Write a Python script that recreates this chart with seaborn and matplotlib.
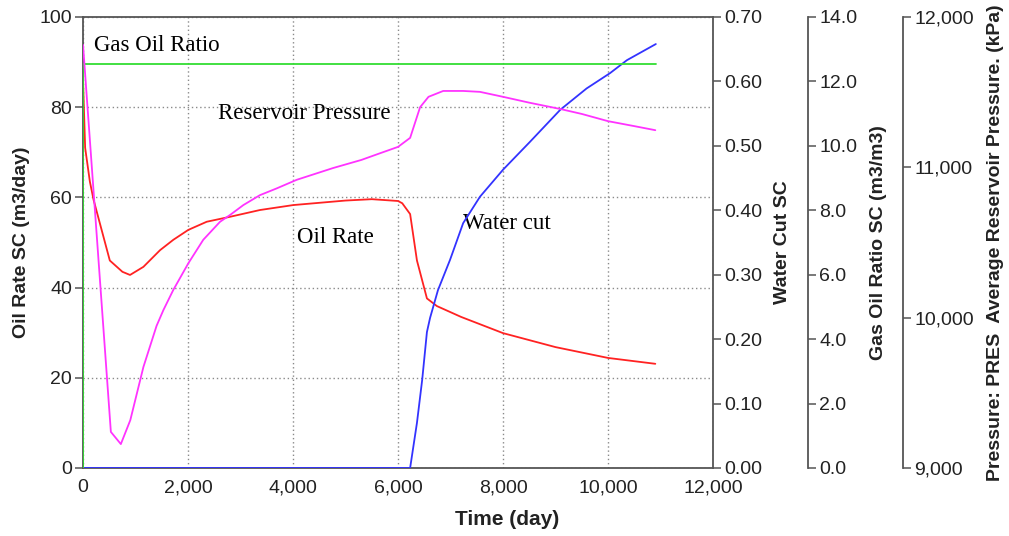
import numpy as np
import pandas as pd
import seaborn as sns
import matplotlib.pyplot as plt
from matplotlib.ticker import FuncFormatter, MultipleLocator

# ---- data ----
oil_time = [0, 40, 130, 200, 510, 750, 895, 1150, 1467, 1720, 2006, 2356, 2800, 3370,
            4006, 5000, 5500, 6000, 6080, 6230, 6360, 6550, 6740, 7200, 8000, 9000,
            10000, 10900]
oil_rate = [86, 71, 63.5, 59.5, 46, 43.5, 42.8, 44.6, 48.3, 50.6, 52.8, 54.6, 55.7, 57.2,
            58.3, 59.3, 59.6, 59.2, 58.7, 56.3, 46, 37.6, 35.9, 33.5, 29.9, 26.8,
            24.4, 23.1]

wc_time = [0, 6230, 6360, 6460, 6550, 6610, 6760, 6990, 7240, 7560, 8000, 8510,
           9090, 9590, 10040, 10360, 10910]
water_cut = [0, 0, 0.070, 0.137, 0.211, 0.233, 0.276, 0.323, 0.380, 0.421, 0.463, 0.506,
             0.556, 0.589, 0.613, 0.633, 0.658]

gor_time = [0, 0, 10910]
gor = [0, 12.53, 12.53]

pres_time = [0, 530, 720, 900, 1150, 1400, 1530, 1720, 2006, 2290, 2610, 2800, 3054,
             3370, 3690, 4070, 4760, 5300, 5660, 6000, 6230, 6420, 6580, 6860, 7240,
             7560, 8000, 8500, 9090, 9500, 10000, 10500, 10900]
pressure = [11814, 9240, 9159, 9318, 9672, 9945, 10050, 10185, 10362, 10518, 10638,
            10683, 10749, 10815, 10860, 10917, 10995, 11049, 11094, 11136, 11196,
            11400, 11469, 11508, 11508, 11502, 11469, 11430, 11388, 11355, 11307,
            11274, 11247]

# ---- style ----
sns.set_style("white")
plt.rcParams['font.family'] = ['Liberation Sans', 'DejaVu Sans']
axis_color = '#555555'
text_color = '#222222'
tick_size = 14
label_size = 14

fig = plt.figure(figsize=(10.09, 5.36), dpi=100)
ax = fig.add_axes([0.0823, 0.1269, 0.6244, 0.8414])
ax_wc = ax.twinx()
ax_gor = ax.twinx()
ax_p = ax.twinx()

ax_gor.spines['right'].set_position(('axes', 1.151))
ax_p.spines['right'].set_position(('axes', 1.3016))

# lines
sns.lineplot(x=oil_time, y=oil_rate, ax=ax, color='#ff2222', linewidth=1.3,
             estimator=None, sort=False)
sns.lineplot(x=wc_time, y=water_cut, ax=ax_wc, color='#3333ff', linewidth=1.3,
             estimator=None, sort=False)
sns.lineplot(x=gor_time, y=gor, ax=ax_gor, color='#33dd33', linewidth=1.3,
             estimator=None, sort=False)
sns.lineplot(x=pres_time, y=pressure, ax=ax_p, color='#ff33ff', linewidth=1.3,
             estimator=None, sort=False)

# limits & ticks
ax.set_xlim(0, 12000)
ax.set_ylim(0, 100)
ax.xaxis.set_major_locator(MultipleLocator(2000))
ax.yaxis.set_major_locator(MultipleLocator(20))
ax.xaxis.set_major_formatter(FuncFormatter(lambda v, _: f'{v:,.0f}'))

ax_wc.set_ylim(0, 0.7)
ax_wc.yaxis.set_major_locator(MultipleLocator(0.1))
ax_wc.yaxis.set_major_formatter(FuncFormatter(lambda v, _: f'{v:.2f}'))

ax_gor.set_ylim(0, 14)
ax_gor.yaxis.set_major_locator(MultipleLocator(2))
ax_gor.yaxis.set_major_formatter(FuncFormatter(lambda v, _: f'{v:.1f}'))

ax_p.set_ylim(9000, 12000)
ax_p.yaxis.set_major_locator(MultipleLocator(1000))
ax_p.yaxis.set_major_formatter(FuncFormatter(lambda v, _: f'{v:,.0f}'))

# grid on main axes
ax.grid(True, color='#8a8a8a', linestyle=(0, (1, 2)), linewidth=1.0)

# spines
for side in ['left', 'bottom', 'top', 'right']:
    ax.spines[side].set_color(axis_color)
    ax.spines[side].set_linewidth(1.3)
for a in [ax_wc, ax_gor, ax_p]:
    for side in ['left', 'bottom', 'top']:
        a.spines[side].set_visible(False)
    a.spines['right'].set_color(axis_color)
    a.spines['right'].set_linewidth(1.3)
ax_wc.spines['right'].set_visible(False)

for a in [ax, ax_wc, ax_gor, ax_p]:
    a.tick_params(direction='out', length=6, width=1.1, colors=axis_color,
                  labelcolor=text_color, labelsize=tick_size, pad=2)

# axis labels
ax.set_xlabel('Time (day)', fontsize=label_size + 1, fontweight='bold', color=text_color)
ax.xaxis.set_label_coords(0.673, -0.115)
ax.xaxis.label.set_va('center')

ax.set_ylabel('Oil Rate SC (m3/day)', fontsize=label_size, fontweight='bold', color=text_color)
ax.yaxis.set_label_coords(-0.097, 0.5)
ax.yaxis.label.set_va('center')

ax_wc.set_ylabel('Water Cut SC', fontsize=label_size, fontweight='bold', color=text_color)
ax_wc.yaxis.set_label_coords(1.111, 0.5)
ax_wc.yaxis.label.set_va('center')

ax_gor.set_ylabel('Gas Oil Ratio SC (m3/m3)', fontsize=label_size, fontweight='bold',
                  color=text_color)
ax_gor.yaxis.set_label_coords(1.263, 0.5)
ax_gor.yaxis.label.set_va('center')

ax_p.set_ylabel('Pressure: PRES  Average Reservoir Pressure. (kPa)', fontsize=14,
                fontweight='bold', color=text_color)
ax_p.yaxis.set_label_coords(1.449, 0.5)
ax_p.yaxis.label.set_va('center')

# in-plot annotations
serif = dict(family='Liberation Serif', fontsize=16.5, color='black', va='center')
ax.text(210, 93.6, 'Gas Oil Ratio', **serif)
ax.text(2570, 78.5, 'Reservoir Pressure', **serif)
ax.text(4080, 51.2, 'Oil Rate', **serif)
ax.text(7240, 54.3, 'Water cut', **serif)

fig.savefig('out.png', dpi=100)
